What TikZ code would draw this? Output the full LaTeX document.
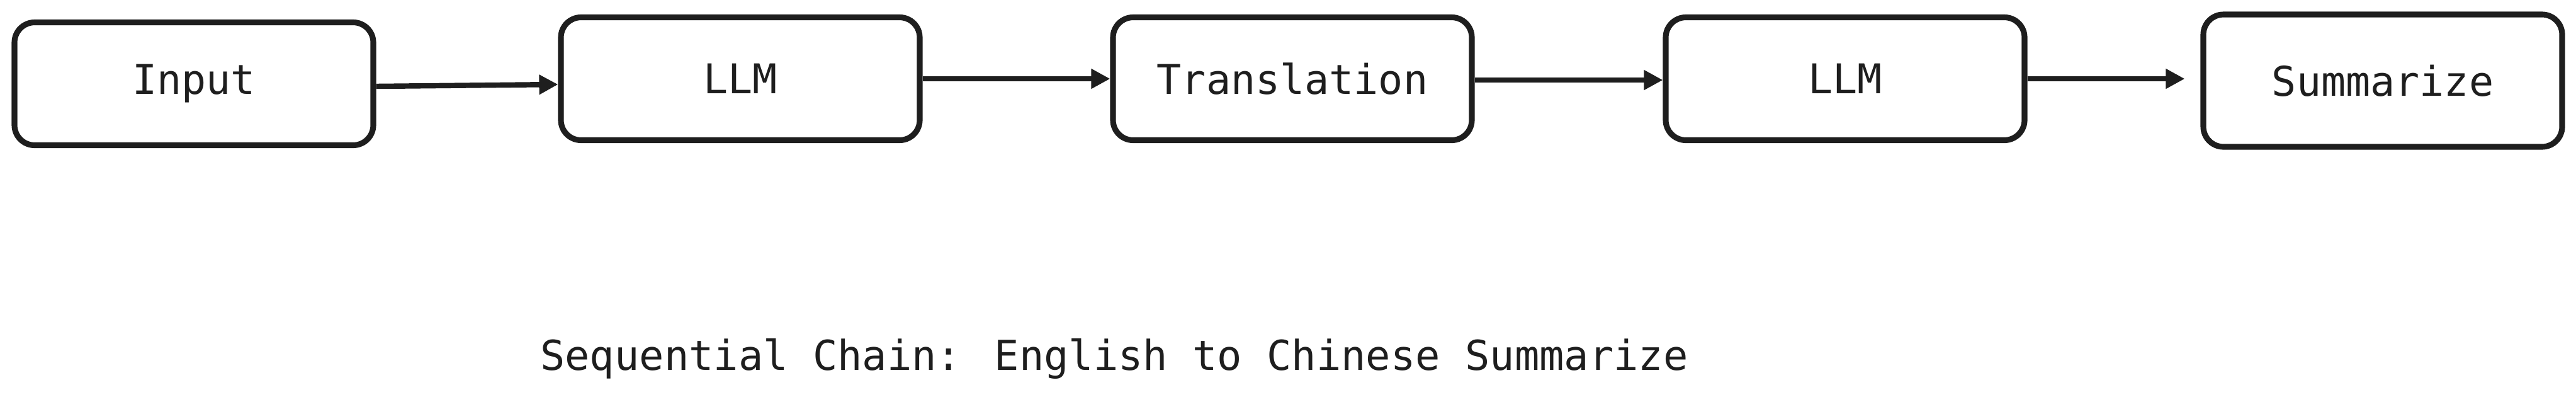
\documentclass[tikz,border=0pt]{standalone}
\usepackage{fontspec}
\usepackage{tikz}
\usetikzlibrary{arrows.meta, positioning, shapes}
\newfontfamily\chainfont{DejaVu Sans Mono}
\definecolor{inkgray}{HTML}{1E1E1E}

\tikzset{
  stepbox/.style={draw=inkgray, line width=2.6pt, rounded corners=0.32cm, fill=white,
    minimum width=5.70cm, minimum height=1.95cm, text=inkgray,
    font=\chainfont\fontsize{18.5}{22}\selectfont},
  flow/.style={draw=inkgray, line width=2.4pt, -{Triangle[length=0.3cm,width=0.3cm]}},
}

\begin{document}
\begin{tikzpicture}
\useasboundingbox (0,0) rectangle (40.92,-6.37);
\node[stepbox] (input) at (3.08,-1.33){Input};
\node[stepbox] (llma) at (11.76,-1.25){LLM};
\node[stepbox] (trans) at (20.53,-1.25){Translation};
\node[stepbox] (llmb) at (29.31,-1.25){LLM};
\node[stepbox, minimum height=2.1cm] (summ) at (37.85,-1.28){Summarize};
\draw[flow] ([yshift=-0.04cm]input.east)--([yshift=-0.09cm]llma.west);
\draw[flow] (llma.east)--(trans.west);
\draw[flow] ([yshift=-0.02cm]trans.east)--([yshift=-0.02cm]llmb.west);
\draw[flow, shorten >=0.25cm] (llmb.east)--(llmb.east -| summ.west);
\node[text=inkgray, font=\chainfont\fontsize{18.6}{22}\selectfont] (caption) at (17.70,-5.69)
  {Sequential Chain: English to Chinese Summarize};
\end{tikzpicture}
\end{document}
